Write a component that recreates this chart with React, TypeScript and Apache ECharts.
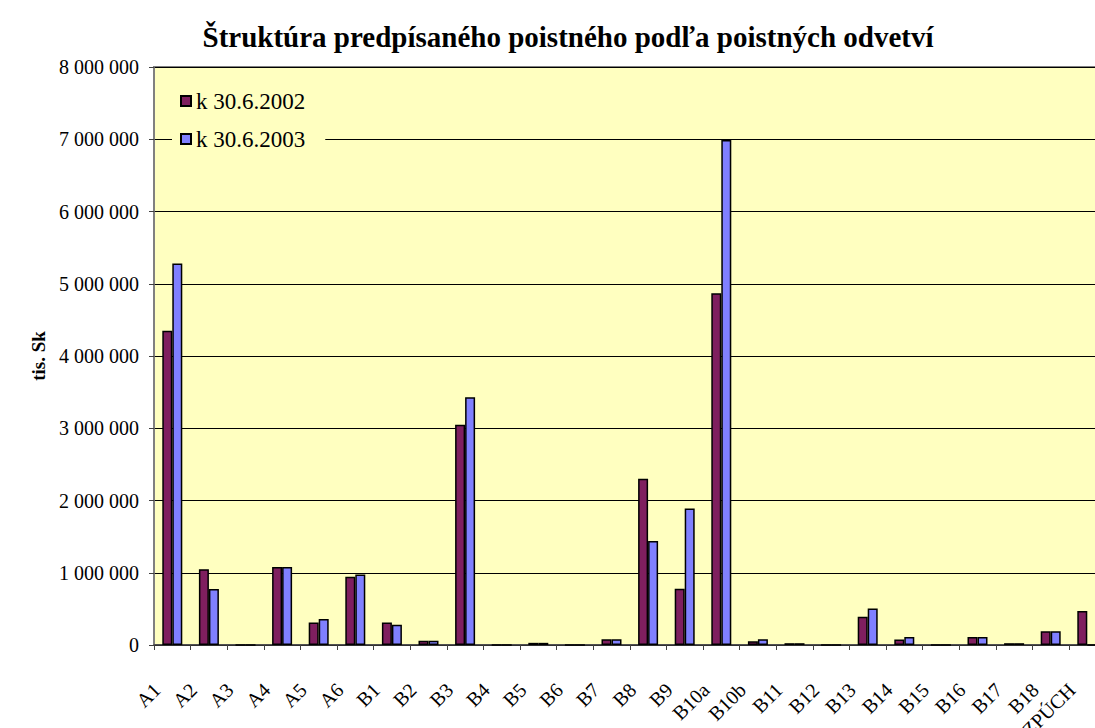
import React, { useEffect, useRef } from "react";
import * as echarts from "echarts";

const categories = [
  "A1", "A2", "A3", "A4", "A5", "A6", "B1", "B2", "B3", "B4", "B5", "B6", "B7",
  "B8", "B9", "B10a", "B10b", "B11", "B12", "B13", "B14", "B15", "B16", "B17", "B18", "ZPÚCH",
];

const values2002 = [
  4350000, 1050000, 0, 1080000, 310000, 945000, 310000, 60000, 3050000, 0, 30000, 0, 80000,
  2300000, 780000, 4870000, 52000, 25000, 0, 390000, 76000, 0, 110000, 25000, 190000, 470000,
];

const values2003 = [
  5280000, 775000, 0, 1080000, 360000, 975000, 280000, 60000, 3430000, 0, 30000, 0, 80000,
  1440000, 1890000, 6990000, 81000, 25000, 0, 505000, 110000, 0, 110000, 25000, 190000, 0,
];

const seriesNames = ["k 30.6.2002", "k 30.6.2003"];
const title = "Štruktúra predpísaného poistného podľa poistných odvetví";
const yAxisName = "tis. Sk";

const FONT = "'Liberation Serif', 'Times New Roman', serif";

function fmt(v: number): string {
  return String(Math.round(v)).replace(/\B(?=(\d{3})+(?!\d))/g, " ");
}

export default function App() {
  const ref = useRef<HTMLDivElement>(null);
  useEffect(() => {
    if (!ref.current) return;
    const chart = echarts.init(ref.current, null, { renderer: "svg" });
    chart.setOption({
      animation: false,
      backgroundColor: "#ffffff",
      title: {
        text: title,
        left: 563,
        top: 17,
        textAlign: "center",
        textStyle: { fontFamily: FONT, fontSize: 29, fontWeight: "bold", color: "#000" },
      },
      legend: {
        orient: "vertical",
        left: 172,
        top: 84,
        backgroundColor: "#FFFFC0",
        padding: [5, 20, 5, 8],
        itemWidth: 10,
        itemHeight: 10,
        itemGap: 14,
        icon: "rect",
        textStyle: { fontFamily: FONT, fontSize: 23, color: "#000", lineHeight: 24 },
        data: seriesNames,
      },
      grid: {
        left: 154,
        top: 67,
        width: 951.6,
        height: 578,
        containLabel: false,
        outerBoundsMode: "none",
        show: true,
        backgroundColor: "#FFFFC0",
        borderColor: "#808080",
        borderWidth: 2,
      },
      xAxis: {
        type: "category",
        data: categories,
        axisLine: { show: true, lineStyle: { color: "#404040", width: 1.5 } },
        axisTick: { show: true, interval: 0, length: 5, lineStyle: { color: "#404040" } },
        axisLabel: {
          interval: 0,
          rotate: 45,
          margin: 26,
          padding: [0, 22, 0, 0],
          fontFamily: FONT,
          fontSize: 20,
          color: "#000",
        },
      },
      yAxis: {
        type: "value",
        min: 0,
        max: 8000000,
        interval: 1000000,
        name: yAxisName,
        nameLocation: "middle",
        nameGap: 100,
        nameTextStyle: { fontFamily: FONT, fontSize: 19, fontWeight: "bold", color: "#000" },
        axisLine: { show: true, lineStyle: { color: "#808080", width: 1.5 } },
        axisTick: { show: true, length: 5, lineStyle: { color: "#404040" } },
        splitLine: { show: true, lineStyle: { color: "#000", width: 1 } },
        axisLabel: {
          margin: 15,
          fontFamily: FONT,
          fontSize: 20,
          color: "#000",
          formatter: (v: number) => fmt(v),
        },
      },
      series: [
        {
          name: seriesNames[0],
          type: "bar",
          data: values2002,
          barWidth: 10,
          barGap: "0%",
          itemStyle: { color: "#7F1F5F", borderColor: "#000", borderWidth: 1.5 },
        },
        {
          name: seriesNames[1],
          type: "bar",
          data: values2003,
          barWidth: 10,
          barGap: "0%",
          itemStyle: { color: "#8080FF", borderColor: "#000", borderWidth: 1.5 },
        },
      ],
    });
    return () => chart.dispose();
  }, []);
  return (
    <div
      ref={ref}
      style={{ position: "absolute", left: 0, top: 0, width: 1095, height: 728, overflow: "hidden" }}
    />
  );
}
